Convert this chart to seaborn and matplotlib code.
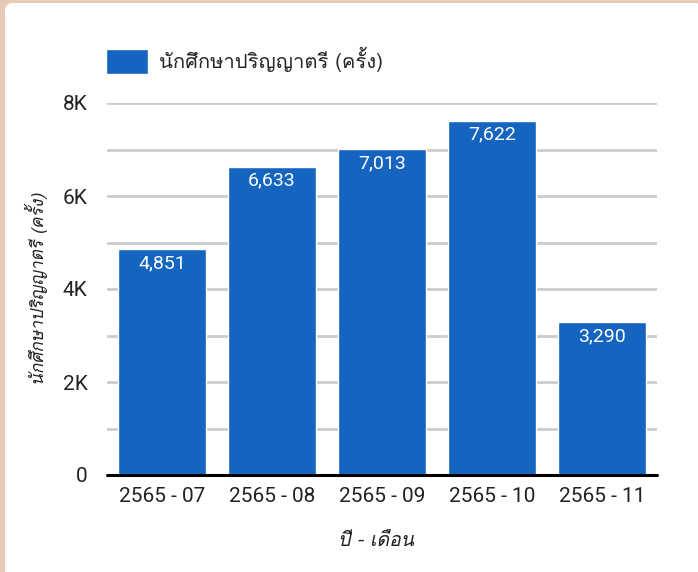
import matplotlib
matplotlib.use("Agg")
import matplotlib.pyplot as plt
import matplotlib.font_manager as fm
from matplotlib.ft2font import FT2Font
from matplotlib.patches import FancyBboxPatch
import seaborn as sns
import pandas as pd

months = ["2565 - 07", "2565 - 08", "2565 - 09", "2565 - 10", "2565 - 11"]
counts = [4851, 6633, 7013, 7622, 3290]
series_name = "นักศึกษาปริญญาตรี (ครั้ง)"
x_title = "ปี - เดือน"
y_title = "นักศึกษาปริญญาตรี (ครั้ง)"
y_ticks = [0, 2000, 4000, 6000, 8000]
y_ticklabels = ["0", "2K", "4K", "6K", "8K"]

# find a font with Thai glyphs
thai_font = None
for f in fm.fontManager.ttflist:
    try:
        cm = FT2Font(f.fname).get_charmap()
        if 0x0E01 in cm and 0x0E35 in cm:
            thai_font = f.name
            break
    except Exception:
        pass
thai_family = [thai_font, "DejaVu Sans"] if thai_font else ["DejaVu Sans"]

sns.set_theme(style="white")
plt.rcParams["font.family"] = ["Roboto", "DejaVu Sans"]

df = pd.DataFrame({"month": months, "count": counts})

fig = plt.figure(figsize=(6.98, 5.72), dpi=100)
fig.patch.set_facecolor("#e8c8b6")
card = FancyBboxPatch((5 / 698, -0.05), 1, 1.05 - 3 / 572, boxstyle="round,pad=0,rounding_size=0.012",
                      transform=fig.transFigure, facecolor="white", edgecolor="none", zorder=-10)
fig.patches.append(card)

ax = fig.add_axes([107 / 698, 1 - 475 / 572, 550 / 698, 372 / 572])
ax.set_facecolor("none")
ax.set_zorder(1)
color = "#1565c0"
sns.barplot(data=df, x="month", y="count", color=color, width=0.8, saturation=1,
            ax=ax, zorder=3, label=series_name)

ax.set_ylim(0, 8000)
ax.set_xlim(-0.5, 4.5)
for v in range(1000, 8001, 1000):
    ax.axhline(v, color="#cccccc", lw=2, zorder=1)
ax.axhline(0, color="black", lw=2.2, zorder=4, clip_on=False)
ax.set_yticks(y_ticks)
ax.set_yticklabels(y_ticklabels, fontsize=15, color="#222222")
ax.tick_params(axis="y", length=0, pad=14)
ax.tick_params(axis="x", length=0, pad=9, labelsize=15, labelcolor="#222222")
for s in ax.spines.values():
    s.set_visible(False)

for i, v in enumerate(counts):
    ax.text(i, v - 110, f"{v:,}", ha="center", va="top", color="white", fontsize=14, zorder=5)

ax.set_xlabel(x_title, family=thai_family, style="italic", fontsize=14, color="#222222")
ax.xaxis.set_label_coords(0.49, -0.152)
ax.set_ylabel(y_title, family=thai_family, style="italic", fontsize=12.5, color="#222222")
ax.yaxis.set_label_coords(-0.107, 0.5)

leg = ax.legend(loc="upper left", bbox_to_anchor=(-0.002, 1.15), frameon=False,
                borderpad=0, borderaxespad=0,
                handlelength=2.1, handleheight=1.5, handletextpad=0.55,
                prop=fm.FontProperties(family=thai_family, size=14.5))

fig.savefig("out.png", dpi=100, facecolor=fig.get_facecolor())
